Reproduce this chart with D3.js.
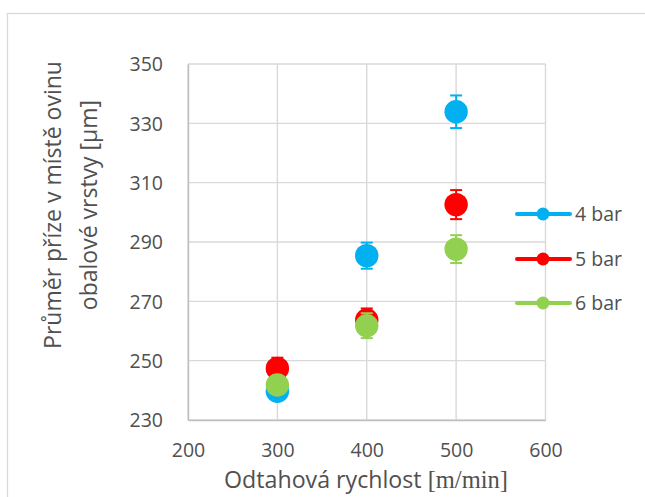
<!DOCTYPE html>
<html>
<head>
<meta charset="utf-8">
<script src="https://cdn.jsdelivr.net/npm/d3@7"></script>
<style>
  html, body { margin: 0; padding: 0; background: #fff; }
  svg { display: block; }
</style>
</head>
<body>
<script>
// Take-off speed (m/min)
const speeds = [300, 400, 500];
// Mean yarn diameter at the wrapping layer (µm) and its error, per pressure
const series = ["4 bar", "5 bar", "6 bar"];
const colors = ["#00B0F0", "#FF0000", "#92D050"];
const bar4 = [239.7, 285.4, 333.9];
const bar4Err = [2.0, 4.4, 5.5];
const bar5 = [247.4, 263.7, 302.6];
const bar5Err = [3.6, 3.9, 4.9];
const bar6 = [241.8, 261.8, 287.6];
const bar6Err = [2.2, 4.2, 4.7];
const xTicks = [200, 300, 400, 500, 600];
const yTicks = [230, 250, 270, 290, 310, 330, 350];

const data = [
  { name: series[0], color: colors[0], values: bar4, errs: bar4Err },
  { name: series[1], color: colors[1], values: bar5, errs: bar5Err },
  { name: series[2], color: colors[2], values: bar6, errs: bar6Err }
];

const W = 645, H = 497;
const font = "'Open Sans', sans-serif";
const textColor = "#505050";
const gridColor = "#d9d9d9";

const svg = d3.select("body").append("svg").attr("width", W).attr("height", H);

// chart frame
svg.append("rect").attr("x", 7.5).attr("y", 13.5).attr("width", W + 10).attr("height", H)
  .attr("fill", "#fff").attr("stroke", gridColor).attr("stroke-width", 1.3);

const x = d3.scaleLinear().domain([200, 600]).range([188, 545.5]);
const y = d3.scaleLinear().domain([230, 350]).range([420, 64]);

// gridlines
svg.append("g").selectAll("line").data(yTicks).join("line")
  .attr("x1", x(200)).attr("x2", x(600))
  .attr("y1", d => y(d)).attr("y2", d => y(d))
  .attr("stroke", gridColor).attr("stroke-width", 1.4);
svg.append("g").selectAll("line").data(xTicks).join("line")
  .attr("y1", y(230)).attr("y2", y(350))
  .attr("x1", d => x(d)).attr("x2", d => x(d))
  .attr("stroke", gridColor).attr("stroke-width", 1.4);

// axes
const yAxis = svg.append("g").attr("transform", `translate(${x(200)},0)`)
  .call(d3.axisLeft(y).tickValues(yTicks).tickSize(0).tickPadding(25).tickFormat(d3.format("d")));
const xAxis = svg.append("g").attr("transform", `translate(0,${y(230)})`)
  .call(d3.axisBottom(x).tickValues(xTicks).tickSize(0).tickPadding(25).tickFormat(d3.format("d")));
[yAxis, xAxis].forEach(g => {
  g.select(".domain").attr("stroke", "#bfbfbf").attr("stroke-width", 1.4);
  g.selectAll("text").attr("fill", textColor).attr("font-family", font).attr("font-size", 19.5);
});
yAxis.selectAll("text").attr("dy", "0.35em");
xAxis.selectAll("text").attr("dy", "0.62em");

// axis titles
const xt = svg.append("text").attr("x", 366).attr("y", 488).attr("text-anchor", "middle")
  .attr("fill", textColor).attr("font-family", font).attr("font-size", 23.2);
xt.append("tspan").text("Odtahová rychlost ");
xt.append("tspan").attr("font-family", "'Liberation Serif', serif").attr("font-size", 24.5).text("[m/min]");

const yt = svg.append("text").attr("transform", "translate(0,205) rotate(-90)")
  .attr("text-anchor", "middle").attr("fill", textColor)
  .attr("font-family", font).attr("font-size", 23);
yt.append("tspan").attr("x", 0).attr("y", 61).text("Průměr příze v místě ovinu");
yt.append("tspan").attr("x", 0).attr("y", 97).text("obalové vrstvy [µm]");

// series: error bars and markers
data.forEach(s => {
  const g = svg.append("g");
  s.values.forEach((v, i) => {
    const cx = x(speeds[i]);
    const e = s.errs[i];
    g.append("line").attr("x1", cx).attr("x2", cx).attr("y1", y(v - e)).attr("y2", y(v + e))
      .attr("stroke", s.color).attr("stroke-width", 2);
    [v - e, v + e].forEach(t => {
      g.append("line").attr("x1", cx - 6).attr("x2", cx + 6).attr("y1", y(t)).attr("y2", y(t))
        .attr("stroke", s.color).attr("stroke-width", 2);
    });
  });
  g.selectAll("circle").data(s.values).join("circle")
    .attr("cx", (d, i) => x(speeds[i])).attr("cy", d => y(d)).attr("r", 11.7)
    .attr("fill", s.color);
});

// legend
const legendY = [214, 259, 303];
data.forEach((s, i) => {
  const g = svg.append("g").attr("transform", `translate(0,${legendY[i]})`);
  g.append("line").attr("x1", 517).attr("x2", 570).attr("y1", 0).attr("y2", 0)
    .attr("stroke", s.color).attr("stroke-width", 4).attr("stroke-linecap", "round");
  g.append("circle").attr("cx", 543).attr("cy", 0).attr("r", 6.5).attr("fill", s.color);
  g.append("text").attr("x", 575).attr("y", 0).attr("dy", "0.35em")
    .attr("fill", textColor).attr("font-family", font).attr("font-size", 19.5).text(s.name);
});
</script>
</body>
</html>
